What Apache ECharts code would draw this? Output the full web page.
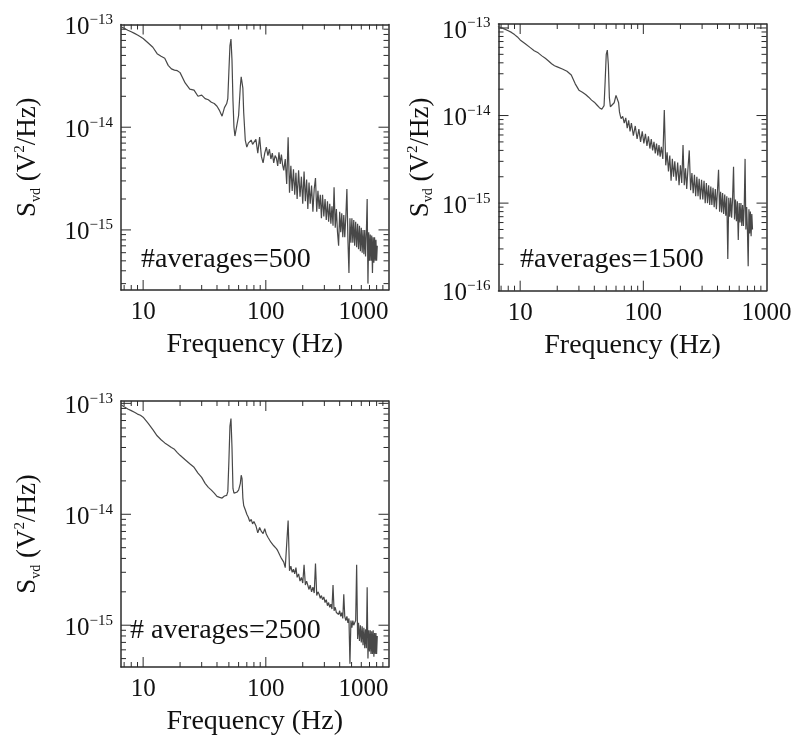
<!DOCTYPE html>
<html><head><meta charset="utf-8">
<script src="https://cdn.jsdelivr.net/npm/echarts@6/dist/echarts.min.js"></script>
<style>html,body{margin:0;padding:0;background:#fff}#c{width:794px;height:750px}</style>
</head><body><div id="c"></div>
<script>
// Frequency grid (Hz)
const freq = [
 6.6, 7, 7.5, 8, 8.5, 9, 9.5, 10, 11, 12,
 13, 14, 15, 16, 17, 18, 19, 20, 22, 24,
 26, 28, 30, 32, 34, 36, 38, 40, 42, 44,
 46, 48, 49, 50, 51, 52, 53, 54, 55, 56,
 58, 60, 62, 63, 64, 65, 66, 68, 70, 72,
 74, 76, 78, 80, 83, 86, 89, 92, 95, 98,
 101, 104, 107, 110, 113, 116, 119, 122, 125, 128,
 131, 134, 137, 140, 144, 148, 152, 156, 160, 164,
 168, 172, 176, 180, 185, 190, 195, 200, 205, 210,
 215, 220, 225, 230, 236, 242, 248, 254, 260, 266,
 272, 278, 284, 290, 297, 304, 311, 318, 325, 332,
 339, 346, 353, 360, 368, 376, 384, 392, 400, 408,
 416, 424, 432, 440, 449, 458, 467, 476, 485, 494,
 503, 512, 521, 530, 540, 550, 560, 570, 580, 590,
 600, 610, 620, 630, 640, 650, 660, 670, 680, 690,
 700, 710, 720, 730, 740, 750, 760, 770, 780, 790,
 800, 810
];
// S_vd values in units of 1e-15 V^2/Hz
const psd500 = [
 95, 92, 88, 85, 82, 79, 76, 73, 66, 60,
 52, 49, 47, 40, 37, 36, 35.5, 34, 27, 23.5,
 23, 20, 20.5, 19, 18.5, 17.5, 17, 16, 14.5, 12.8,
 15.5, 17, 19, 35, 62, 72, 45, 18, 10, 8.2,
 8, 13, 25, 31, 32, 24, 14, 7.5, 6.4, 7,
 7.3, 7.5, 6.8, 6.6, 7.6, 5.6, 8.0, 5.2, 4.5, 5.6,
 6.4, 5.3, 6.1, 4.9, 5.6, 4.5, 5.3, 5.0, 4.2, 5.7,
 4.4, 5.4, 4.3, 3.8, 4.9, 2.8, 8.0, 2.3, 4.2, 2.4,
 3.9, 2.2, 3.6, 2.0, 3.8, 2.1, 3.3, 1.8, 3.7, 1.9,
 3.1, 1.6, 2.9, 1.8, 2.7, 1.5, 2.5, 3.2, 1.5, 2.4,
 1.6, 2.2, 1.3, 2.2, 1.35, 2.0, 1.25, 1.9, 1.2, 1.8,
 1.15, 1.7, 1.1, 2.6, 1.05, 1.6, 0.95, 0.7, 1.5, 0.95,
 1.45, 0.85, 1.4, 0.85, 1.35, 2.5, 0.8, 0.38, 1.3, 0.75,
 1.3, 0.75, 1.25, 0.7, 1.2, 0.68, 1.15, 0.65, 1.1, 0.62,
 1.05, 0.6, 1.0, 0.58, 1.0, 0.55, 0.95, 2.0, 0.3, 0.95,
 0.5, 0.9, 0.5, 0.88, 0.38, 0.85, 0.48, 0.85, 0.5, 0.8,
 0.5, 0.7
];
const psd1500 = [
 104, 101, 97, 93, 89, 84, 79, 73, 66, 60,
 55, 52, 48, 45, 42, 39, 37, 36, 34, 32,
 29, 23, 19.5, 18.5, 17.4, 16.2, 15, 14.2, 13.2, 12.3,
 11.8, 13, 25, 50, 56, 38, 16, 12.6, 12.4, 12.8,
 14, 17, 17.4, 14, 11, 10, 9.2, 9.8, 8.2, 9.4,
 7.2, 8.8, 6.6, 8.2, 5.9, 7.6, 5.4, 7.0, 5.0, 6.6,
 4.8, 6.2, 4.5, 5.8, 4.2, 5.4, 4.0, 5.0, 3.7, 4.8,
 3.5, 4.6, 3.4, 4.4, 3.2, 11.6, 2.7, 3.8, 2.3, 3.5,
 1.8, 3.2, 2.0, 3.0, 1.8, 2.9, 1.6, 2.7, 1.7, 4.6,
 1.6, 2.5, 1.45, 2.4, 4.0, 1.4, 2.2, 1.3, 2.1, 1.2,
 2.0, 1.2, 1.9, 1.1, 1.85, 1.1, 1.8, 1.0, 1.7, 1.0,
 1.6, 0.95, 1.55, 0.95, 1.5, 0.9, 1.45, 0.85, 1.4, 2.4,
 0.8, 1.35, 0.78, 1.3, 0.75, 1.25, 0.72, 1.2, 0.23, 1.15,
 0.7, 1.15, 0.68, 1.1, 2.6, 0.65, 1.1, 0.62, 1.05, 0.38,
 1.0, 0.6, 1.0, 0.55, 0.95, 0.55, 0.95, 3.2, 0.5, 0.9,
 0.5, 0.19, 0.85, 0.45, 0.8, 0.42, 0.75, 0.5
];
const psd2500 = [
 97, 93, 89, 86, 83, 80, 78, 75, 66, 58,
 51, 47, 44, 42, 40, 38.5, 36, 34, 31, 28.5,
 26.5, 23.5, 21.5, 19, 17.5, 16.5, 15.5, 14.5, 14.2, 14.0,
 14.6, 14.8, 16, 30, 62, 73, 40, 17, 15.5, 15.2,
 15.8, 16.5, 19, 22.5, 21, 14, 12, 11, 10, 9.4,
 8.6, 9.0, 8.2, 8.6, 7.9, 6.8, 7.6, 7.0, 6.7, 7.4,
 6.6, 6.2, 6.0, 5.6, 5.7, 5.2, 5.1, 4.9, 4.7, 4.6,
 4.2, 4.0, 3.9, 3.7, 3.3, 3.4, 8.8, 3.1, 3.4, 3.0,
 3.2, 2.9, 3.3, 2.7, 2.9, 2.5, 2.7, 2.4, 3.5, 2.3,
 2.5, 2.4, 2.1, 2.3, 2.0, 2.2, 1.95, 3.6, 1.85, 2.0,
 1.9, 1.75, 1.85, 1.7, 1.8, 1.6, 1.7, 1.5, 1.6, 1.45,
 1.55, 1.4, 2.3, 1.35, 1.45, 1.3, 1.35, 1.25, 1.35, 1.2,
 1.3, 1.15, 1.9, 1.2, 1.1, 1.2, 1.05, 1.15, 0.45, 1.1,
 0.95, 1.1, 1.0, 1.05, 1.1, 3.5, 0.75, 1.05, 0.72, 1.0,
 0.7, 0.98, 0.66, 0.95, 0.62, 0.92, 0.62, 2.2, 0.5, 0.9,
 0.58, 0.9, 0.55, 0.88, 0.55, 0.9, 0.52, 0.85, 0.55, 0.85,
 0.55, 0.8
];
const UNIT = 1e-15;
const xTickLabels = ['10', '100', '1000'];      // for 10^1, 10^2, 10^3
const annotations = ['#averages=500', '#averages=1500', '# averages=2500'];
const xName = 'Frequency (Hz)';
const yName = '{m|S}{s|vd}{m| (V}{p|2}{m|/Hz)}';

const FONT = '"Liberation Serif","Times New Roman",serif';
const INK = '#111';
const FRAME = '#2b2b2b';
const LINE = '#484848';

const panels = [
  { psd: psd500, grid: { left: 121, top: 24.5, width: 267.5, height: 265.5 },
    x: [6.6, 1000], y: [2.6e-16, 1e-13], ann: { x: 141, y: 260 }, yGap: 78, maxAlign: 'right' },
  { psd: psd1500, grid: { left: 498.5, top: 24, width: 268, height: 266.7 },
    x: [6.67, 1000], y: [1e-16, 1.11e-13], ann: { x: 520, y: 260 }, yGap: 63, maxAlign: 'center' },
  { psd: psd2500, grid: { left: 121, top: 401, width: 267.5, height: 266 },
    x: [6.6, 1000], y: [4.2e-16, 1.05e-13], ann: { x: 130, y: 631 }, yGap: 78, maxAlign: 'right' }
];

function expOf(v) {
  const e = Math.log10(v), r = Math.round(e);
  return Math.abs(e - r) < 1e-6 ? r : null;
}
function tickValues(lo, hi) {
  const out = [];
  for (let e = Math.floor(Math.log10(lo)); e <= Math.ceil(Math.log10(hi)); e++) {
    for (let k = 1; k <= 9; k++) {
      const v = k * Math.pow(10, e);
      if (v > lo * 1.002 && v < hi * 0.998) out.push(v);
    }
  }
  return out;
}

const option = { animation: false, backgroundColor: '#fff', grid: [], xAxis: [], yAxis: [], series: [], graphic: [] };

panels.forEach((p, gi) => {
  option.grid.push(Object.assign({ containLabel: false, outerBoundsMode: 'none' }, p.grid));
  const axisLine = { show: true, onZero: false, lineStyle: { color: FRAME, width: 1.5 } };
  option.xAxis.push({
    type: 'log', logBase: 10, gridIndex: gi, position: 'bottom', min: p.x[0], max: p.x[1],
    axisLine, axisTick: { show: false }, splitLine: { show: false }, minorTick: { show: false },
    name: xName, nameLocation: 'middle', nameGap: 41,
    nameTextStyle: { fontFamily: FONT, fontSize: 28, color: INK },
    axisLabel: {
      show: true, margin: 10, fontFamily: FONT, fontSize: 25, color: INK,
      showMinLabel: true, showMaxLabel: true, alignMaxLabel: p.maxAlign,
      formatter: v => { const e = expOf(v); return (e !== null && e >= 1 && e <= 3) ? xTickLabels[e - 1] : ''; }
    }
  });
  option.xAxis.push({
    type: 'log', logBase: 10, gridIndex: gi, position: 'top', min: p.x[0], max: p.x[1],
    axisLine, axisTick: { show: false }, axisLabel: { show: false }, splitLine: { show: false }
  });
  option.yAxis.push({
    type: 'log', logBase: 10, gridIndex: gi, position: 'left', min: p.y[0], max: p.y[1],
    axisLine, axisTick: { show: false }, splitLine: { show: false }, minorTick: { show: false },
    name: yName, nameLocation: 'middle', nameGap: p.yGap,
    nameTextStyle: {
      fontFamily: FONT, color: INK,
      rich: {
        m: { fontFamily: FONT, fontSize: 27, lineHeight: 30, color: INK },
        s: { fontFamily: FONT, fontSize: 14, lineHeight: 14, verticalAlign: 'bottom', color: INK },
        p: { fontFamily: FONT, fontSize: 15, lineHeight: 15, verticalAlign: 'top', color: INK }
      }
    },
    axisLabel: {
      show: true, margin: 8, padding: [6, 0, 0, 0], showMinLabel: true, showMaxLabel: true,
      formatter: v => { const e = expOf(v); return e === null ? '' : '{b|10}{e|\u2212' + (-e) + '}'; },
      rich: {
        b: { fontFamily: FONT, fontSize: 25, lineHeight: 30, color: INK },
        e: { fontFamily: FONT, fontSize: 15, lineHeight: 15, verticalAlign: 'top', color: INK }
      }
    }
  });
  option.yAxis.push({
    type: 'log', logBase: 10, gridIndex: gi, position: 'right', min: p.y[0], max: p.y[1],
    axisLine, axisTick: { show: false }, axisLabel: { show: false }, splitLine: { show: false }
  });

  const xa = gi * 2, ya = gi * 2;
  option.series.push({
    type: 'line', xAxisIndex: xa, yAxisIndex: ya, showSymbol: false, symbol: 'none',
    clip: true, smooth: false,
    lineStyle: { color: LINE, width: 1.2 },
    data: p.psd.map((v, i) => [freq[i], v * UNIT])
  });
  option.series.push({
    type: 'custom', xAxisIndex: xa, yAxisIndex: ya, silent: true,
    data: tickValues(p.x[0], p.x[1]).map(v => [v, p.y[0]]),
    renderItem: (params, api) => {
      const v = api.value(0);
      const pt = api.coord([v, api.value(1)]);
      const cs = params.coordSys;
      const L = expOf(v) !== null ? 10 : 5;
      const st = { stroke: FRAME, lineWidth: 1 };
      return { type: 'group', children: [
        { type: 'line', shape: { x1: pt[0], y1: cs.y + cs.height, x2: pt[0], y2: cs.y + cs.height - L }, style: st },
        { type: 'line', shape: { x1: pt[0], y1: cs.y, x2: pt[0], y2: cs.y + L }, style: st }
      ] };
    }
  });
  option.series.push({
    type: 'custom', xAxisIndex: xa, yAxisIndex: ya, silent: true,
    data: tickValues(p.y[0], p.y[1]).map(v => [p.x[0], v]),
    renderItem: (params, api) => {
      const v = api.value(1);
      const pt = api.coord([api.value(0), v]);
      const cs = params.coordSys;
      const L = expOf(v) !== null ? 10 : 5;
      const st = { stroke: FRAME, lineWidth: 1 };
      return { type: 'group', children: [
        { type: 'line', shape: { x1: cs.x, y1: pt[1], x2: cs.x + L, y2: pt[1] }, style: st },
        { type: 'line', shape: { x1: cs.x + cs.width, y1: pt[1], x2: cs.x + cs.width - L, y2: pt[1] }, style: st }
      ] };
    }
  });
  option.graphic.push({
    type: 'text', x: p.ann.x, y: p.ann.y, silent: true,
    style: { text: annotations[gi], fontFamily: FONT, fontSize: 28, fill: INK, verticalAlign: 'middle', align: 'left' }
  });
});

const chart = echarts.init(document.getElementById('c'), null, { renderer: 'canvas', width: 794, height: 750 });
chart.setOption(option);
</script>
</body></html>
